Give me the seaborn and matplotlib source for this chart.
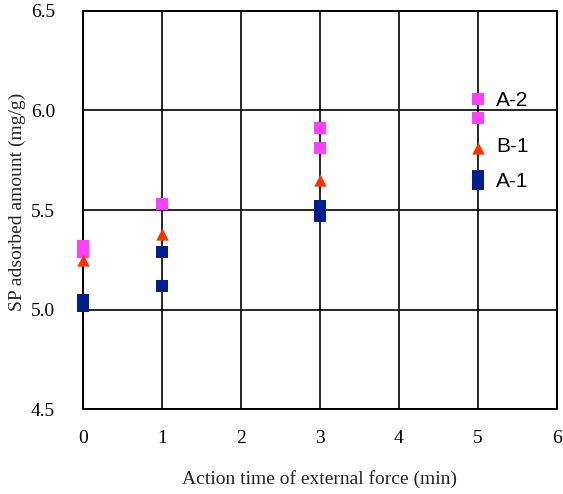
import matplotlib
matplotlib.use("Agg")
import matplotlib.pyplot as plt
import seaborn as sns
import pandas as pd

# Data
a2_x = [0, 0, 1, 3, 3, 5, 5]
a2_y = [5.32, 5.29, 5.53, 5.91, 5.81, 6.06, 5.96]
b1_x = [0, 1, 3, 5]
b1_y = [5.25, 5.38, 5.65, 5.81]
a1_x = [0, 0, 1, 1, 3, 3, 5, 5]
a1_y = [5.05, 5.02, 5.29, 5.12, 5.52, 5.47, 5.67, 5.63]
series_names = ["A-2", "B-1", "A-1"]
label_y = [6.05, 5.82, 5.645]
x_ticks = [0, 1, 2, 3, 4, 5, 6]
y_ticks = [4.5, 5.0, 5.5, 6.0, 6.5]

df = pd.concat([
    pd.DataFrame({"x": a2_x, "y": a2_y, "series": "A-2"}),
    pd.DataFrame({"x": b1_x, "y": b1_y, "series": "B-1"}),
    pd.DataFrame({"x": a1_x, "y": a1_y, "series": "A-1"}),
])

sns.set_style("white")
plt.rcParams["font.family"] = ["Liberation Serif", "DejaVu Serif"]

fig = plt.figure(figsize=(5.63, 4.94), dpi=100)
ax = fig.add_axes([83 / 563, (494 - 409) / 494, (557 - 83) / 563, (409 - 11) / 494])

palette = {"A-2": "#FF40FF", "B-1": "#FF3300", "A-1": "#001E8F"}
markers = {"A-2": "s", "B-1": "^", "A-1": "s"}
sizes_pt = {"A-2": 64, "B-1": 80, "A-1": 64}
for name in series_names:
    sub = df[df["series"] == name]
    sns.scatterplot(data=sub, x="x", y="y", color=palette[name], marker=markers[name],
                    s=sizes_pt[name], linewidth=0, ax=ax, zorder=3, legend=False,
                    clip_on=False)

for name, ly in zip(series_names, label_y):
    ax.text(5.23, ly, name, fontsize=15, family=["Liberation Sans", "DejaVu Sans"],
            va="center", ha="left", color="black", zorder=4)

ax.set_xlim(0, 6)
ax.set_ylim(4.5, 6.5)
ax.set_xticks(x_ticks)
ax.set_yticks(y_ticks)
ax.set_xticklabels([str(t) for t in x_ticks])
ax.set_yticklabels([f"{t:.1f}" for t in y_ticks])
ax.grid(True, color="black", linewidth=1.2)
ax.set_axisbelow(True)
for sp in ax.spines.values():
    sp.set_color("black")
    sp.set_linewidth(1.4)
ax.tick_params(axis="both", length=0, labelsize=14, colors="black")
ax.tick_params(axis="y", pad=20)
ax.tick_params(axis="x", pad=15)
ax.set_xlabel("Action time of external force (min)", fontsize=14, labelpad=17)
ax.set_ylabel("SP adsorbed amount (mg/g)", fontsize=14, labelpad=4)
ax.yaxis.set_label_coords(-0.12, 0.52)

fig.savefig("out.png", dpi=100)
